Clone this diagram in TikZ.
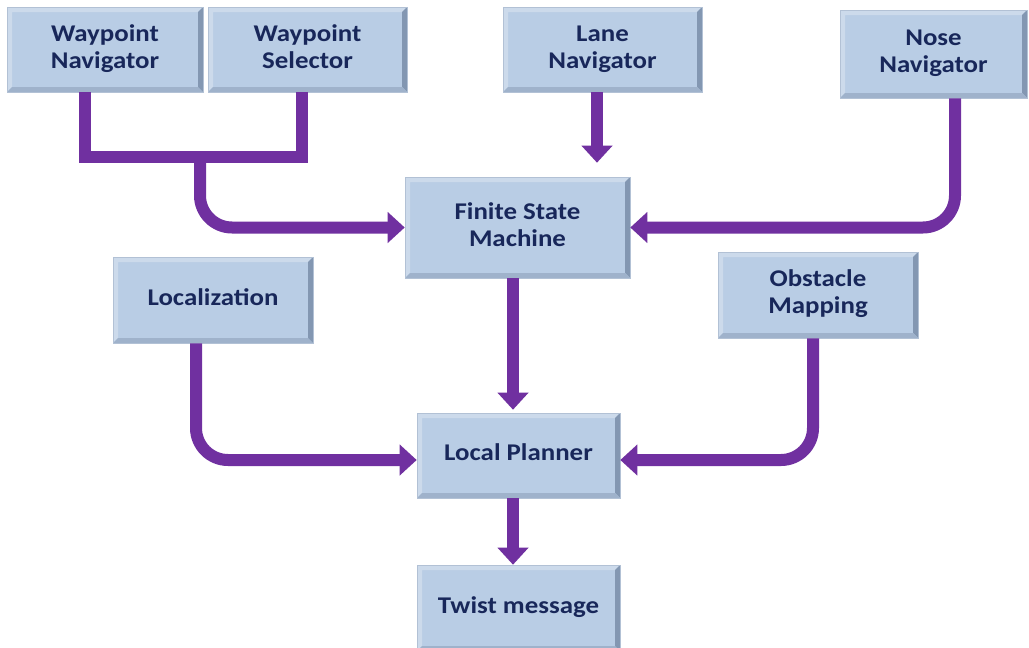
\documentclass[tikz,border=0pt]{standalone}
\usepackage{fontspec}
\usepackage{graphicx}
\setmainfont{Carlito}
\usetikzlibrary{arrows.meta}
\definecolor{boxfill}{HTML}{B9CDE5}
\definecolor{boxdark}{HTML}{8397B2}
\definecolor{boxmid}{HTML}{9FB2CB}
\definecolor{boxlight}{HTML}{CCDAEB}
\definecolor{txtblue}{HTML}{18275A}
\definecolor{flowpurple}{HTML}{7030A0}
\newcommand{\lbl}[1]{\scalebox{1.12}[1]{\begin{tabular}{@{}c@{}}#1\end{tabular}}}
\tikzset{
  bevelbox/.style={fill=boxfill, draw=boxmid!80, line width=0.6pt, inner sep=0pt,
    font=\fontsize{24}{27}\selectfont\bfseries, text=txtblue,
    path picture={
      \fill[boxlight] (path picture bounding box.south west) -- (path picture bounding box.north west)
        -- (path picture bounding box.north east) -- ([xshift=-5pt,yshift=-5pt]path picture bounding box.north east)
        -- ([xshift=5pt,yshift=-5pt]path picture bounding box.north west) -- ([xshift=5pt,yshift=5pt]path picture bounding box.south west) -- cycle;
      \fill[boxdark] (path picture bounding box.north east) -- (path picture bounding box.south east)
        -- ([xshift=-5pt,yshift=5pt]path picture bounding box.south east) -- ([xshift=-5pt,yshift=-5pt]path picture bounding box.north east) -- cycle;
      \fill[boxmid] (path picture bounding box.south west) -- (path picture bounding box.south east)
        -- ([xshift=-5pt,yshift=5pt]path picture bounding box.south east) -- ([xshift=5pt,yshift=5pt]path picture bounding box.south west) -- cycle;
    }},
  flow/.style={draw=flowpurple, line width=12pt, rounded corners=32pt,
    -{Triangle[width=30pt,length=17pt]}},
  flowline/.style={draw=flowpurple, line width=12pt}
}
\begin{document}
\begin{tikzpicture}[x=1pt,y=-1pt]
\useasboundingbox (0,0) rectangle (1029,648);
\fill[white] (0,0) rectangle (1029,648);
% nodes
\node[bevelbox, minimum width=196pt, minimum height=85pt] (wn) at (105,49.5) {\lbl{Waypoint\\Navigator}};
\node[bevelbox, minimum width=199pt, minimum height=85pt] (ws) at (307.5,49.5) {\lbl{Waypoint\\Selector}};
\node[bevelbox, minimum width=199pt, minimum height=85pt] (lane) at (602.5,49.5) {\lbl{Lane\\Navigator}};
\node[bevelbox, minimum width=187pt, minimum height=88pt] (nose) at (933.5,54) {\lbl{Nose\\Navigator}};
\node[bevelbox, minimum width=225pt, minimum height=101pt] (fsm) at (517.5,227.5) {\lbl{Finite State\\Machine}};
\node[bevelbox, minimum width=200pt, minimum height=86pt] (loc) at (213,300) {\lbl{Localization}};
\node[bevelbox, minimum width=200pt, minimum height=86pt] (obs) at (818,295) {\lbl{Obstacle\\Mapping}};
\node[bevelbox, minimum width=203pt, minimum height=85pt] (lp) at (518.5,455.5) {\lbl{Local Planner}};
\node[bevelbox, minimum width=203pt, minimum height=86pt] (tw) at (518.5,608) {\lbl{Twist message}};
% junction
\coordinate (jn) at (200,157);
% connectors
\draw[flowline, line join=miter] ([xshift=-20pt]wn.south) |- (jn) -| ([xshift=-5.5pt]ws.south);
\draw[flow] ([yshift=6pt]jn) |- (fsm.west);
\draw[flow] ([xshift=-5.5pt]lane.south) -- ([xshift=-5.5pt,yshift=14pt]lane.south |- fsm.north);
\draw[flow] ([xshift=21.5pt]nose.south) |- (fsm.east);
\draw[flow] ([xshift=-4.5pt]fsm.south) -- ([xshift=-4.5pt,yshift=3pt]fsm.south |- lp.north);
\draw[flow] ([xshift=-17pt]loc.south) |- ([yshift=-4.5pt]lp.west);
\draw[flow] ([xshift=-5pt]obs.south) |- ([yshift=-4.5pt]lp.east);
\draw[flow] ([xshift=-5.5pt]lp.south) -- ([xshift=-5.5pt]tw.north);
\end{tikzpicture}
\end{document}
